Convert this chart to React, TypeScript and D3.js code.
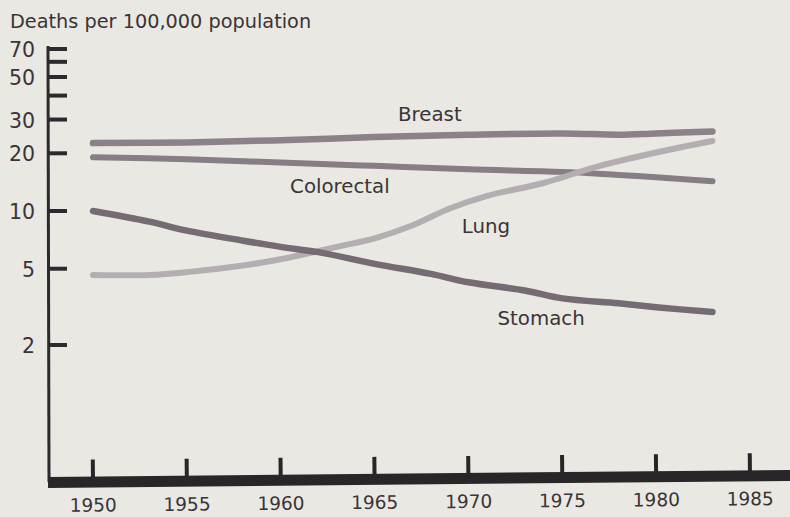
import React from "react";
import * as d3 from "d3";

const years = [1950, 1955, 1960, 1965, 1970, 1975, 1980, 1985];
const yTickLabels = [2, 5, 10, 20, 30, 50, 70];
const yTickMarks = [2, 5, 10, 20, 30, 40, 50, 60, 70];

const breastYears = [1950, 1955, 1960, 1965, 1970, 1975, 1978, 1980, 1983];
const breastValues = [22.6, 22.8, 23.4, 24.3, 25.0, 25.4, 25.0, 25.4, 26.0];

const colorectalYears = [1950, 1955, 1960, 1965, 1970, 1975, 1978, 1980, 1983];
const colorectalValues = [19.1, 18.6, 17.9, 17.2, 16.5, 16.0, 15.4, 15.0, 14.3];

const stomachYears = [1950, 1953, 1955, 1958, 1960, 1962, 1965, 1968, 1970, 1973, 1975, 1978, 1980, 1983];
const stomachValues = [10.0, 8.8, 7.9, 7.0, 6.5, 6.1, 5.3, 4.7, 4.25, 3.85, 3.5, 3.3, 3.15, 2.97];

const lungYears = [1950, 1953, 1955, 1958, 1960, 1963, 1965, 1967, 1969, 1971, 1974, 1977, 1980, 1983];
const lungValues = [4.64, 4.64, 4.8, 5.2, 5.6, 6.5, 7.2, 8.4, 10.3, 12.0, 14.0, 17.2, 20.2, 23.2];

const seriesNames = ["Breast", "Colorectal", "Lung", "Stomach"];

const FONT = "'DejaVu Sans', sans-serif";
const TEXT = "#3a3437";

export default function App() {
  const W = 790;
  const H = 517;
  const x = d3.scaleLinear().domain([1950, 1985]).range([93, 750]);
  const y = d3.scaleLog().domain([2, 70]).range([345, 49]);

  const line = d3
    .line<[number, number]>()
    .x((d) => x(d[0]))
    .y((d) => y(d[1]))
    .curve(d3.curveCatmullRom.alpha(0.5));

  const series = [
    { name: seriesNames[0], yrs: breastYears, vals: breastValues, color: "#8b8188", w: 6.5 },
    { name: seriesNames[1], yrs: colorectalYears, vals: colorectalValues, color: "#877d84", w: 6 },
    { name: seriesNames[2], yrs: lungYears, vals: lungValues, color: "#b4aeb0", w: 6 },
    { name: seriesNames[3], yrs: stomachYears, vals: stomachValues, color: "#746b73", w: 6.5 },
  ];

  const labels = [
    { text: seriesNames[0], year: 1966.25, v: 25.0, dy: -14 },
    { text: seriesNames[1], year: 1960.5, v: 17.9, dy: 30 },
    { text: seriesNames[2], year: 1969.65, v: 8.6, dy: 9 },
    { text: seriesNames[3], year: 1971.55, v: 4.0, dy: 38 },
  ];

  const axisX = 48;
  const barY = 482;

  return (
    <svg width={W} height={H} style={{ display: "block", position: "absolute", left: 0, top: 0 }}>
      <rect x={0} y={0} width={W} height={H} fill="#e9e8e2" />
      <text x={10} y={28} fontFamily={FONT} fontSize={19.3} fill={TEXT}>
        Deaths per 100,000 population
      </text>

      {/* y axis */}
      <line x1={axisX} x2={axisX + 1} y1={y(70) - 3} y2={barY} stroke="#2e292c" strokeWidth={3} />
      {yTickMarks.map((t) => (
        <line key={"m" + t} x1={axisX} x2={axisX + 19} y1={y(t)} y2={y(t)} stroke="#2e292c" strokeWidth={4} />
      ))}
      {yTickLabels.map((t) => (
        <text
          key={"l" + t}
          x={35}
          y={y(t) + 8}
          textAnchor="end"
          fontFamily={FONT}
          fontSize={20.5}
          fill={TEXT}
        >
          {t}
        </text>
      ))}

      {/* lines */}
      {series.map((s) => (
        <path
          key={s.name}
          d={line(s.yrs.map((yr, i) => [yr, s.vals[i]] as [number, number])) || ""}
          fill="none"
          stroke={s.color}
          strokeWidth={s.w}
          strokeLinecap="round"
          strokeLinejoin="round"
        />
      ))}

      {labels.map((l) => (
        <text key={l.text} x={x(l.year)} y={y(l.v) + l.dy} fontFamily={FONT} fontSize={19.8} fill={TEXT}>
          {l.text}
        </text>
      ))}

      {/* x axis (slightly tilted as in the print) */}
      <g transform={`rotate(-0.55, ${axisX}, ${barY})`}>
        <rect x={axisX} y={barY - 5} width={W - axisX + 10} height={11} fill="#2a2528" />
        {years.map((yr) => (
          <rect key={"t" + yr} x={x(yr) - 2} y={barY - 22} width={4} height={18} fill="#2a2528" />
        ))}
        {years.map((yr) => (
          <text
            key={"y" + yr}
            x={x(yr)}
            y={barY + 30}
            textAnchor="middle"
            fontFamily={FONT}
            fontSize={18.5}
            fill={TEXT}
          >
            {yr}
          </text>
        ))}
      </g>
    </svg>
  );
}
